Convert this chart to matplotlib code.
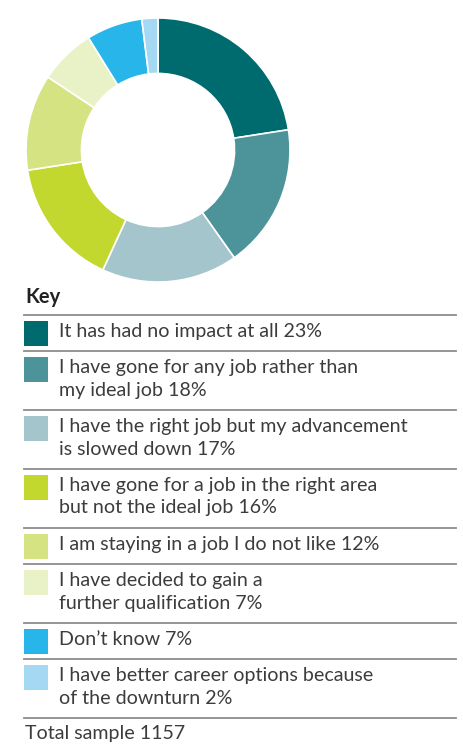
import matplotlib.pyplot as plt
from matplotlib.patches import Rectangle

# --- data ---
labels = [
    "It has had no impact at all 23%",
    "I have gone for any job rather than\nmy ideal job 18%",
    "I have the right job but my advancement\nis slowed down 17%",
    "I have gone for a job in the right area\nbut not the ideal job 16%",
    "I am staying in a job I do not like 12%",
    "I have decided to gain a\nfurther qualification 7%",
    "Don\u2019t know 7%",
    "I have better career options because\nof the downturn 2%",
]
values = [23, 18, 17, 16, 12, 7, 7, 2]
colors = ["#006b6f", "#4c9499", "#a3c5cb", "#c3d82e",
          "#d6e383", "#e9f1c6", "#27b5ea", "#a4d8f3"]
total_sample = 1157

W, H = 464, 749
plt.rcParams['font.family'] = ['Lato', 'DejaVu Sans']
fig = plt.figure(figsize=(W / 100, H / 100), dpi=100)

# donut
cx, cy, r = 158, 150, 132
ax = fig.add_axes([(cx - r) / W, (H - cy - r) / H, 2 * r / W, 2 * r / H])
ax.pie(values, colors=colors, startangle=90, counterclock=False,
       wedgeprops=dict(width=0.42, edgecolor="white", linewidth=1.2))
ax.set_xlim(-1, 1)
ax.set_ylim(-1, 1)
ax.axis("off")

# key, drawn in pixel coords
kx = fig.add_axes([0, 0, 1, 1])
kx.set_xlim(0, W)
kx.set_ylim(H, 0)
kx.axis("off")

txt = "#3c3c3c"
fs = 14.1
kx.text(25, 297, "Key", fontsize=14.5, fontweight="bold", color="#222222",
        va="center", ha="left")

y = 315
kx.plot([24, 456], [y, y], color="#8c8c8c", lw=1.3)
for lab, col in zip(labels, colors):
    lines = lab.split("\n")
    kx.add_patch(Rectangle((24, y + 6), 24.5, 25, color=col, lw=0))
    for i, ln in enumerate(lines):
        kx.text(59, y + 22 + 22.5 * i, ln, fontsize=fs, color=txt,
                va="baseline", ha="left")
    y += 13.5 + 22.7 * len(lines)
    kx.plot([24, 456], [y, y], color="#8c8c8c", lw=1.3)

kx.text(25, y + 21, "Total sample %d" % total_sample, fontsize=fs,
        color=txt, va="baseline", ha="left")

fig.savefig("out.png", dpi=100)
